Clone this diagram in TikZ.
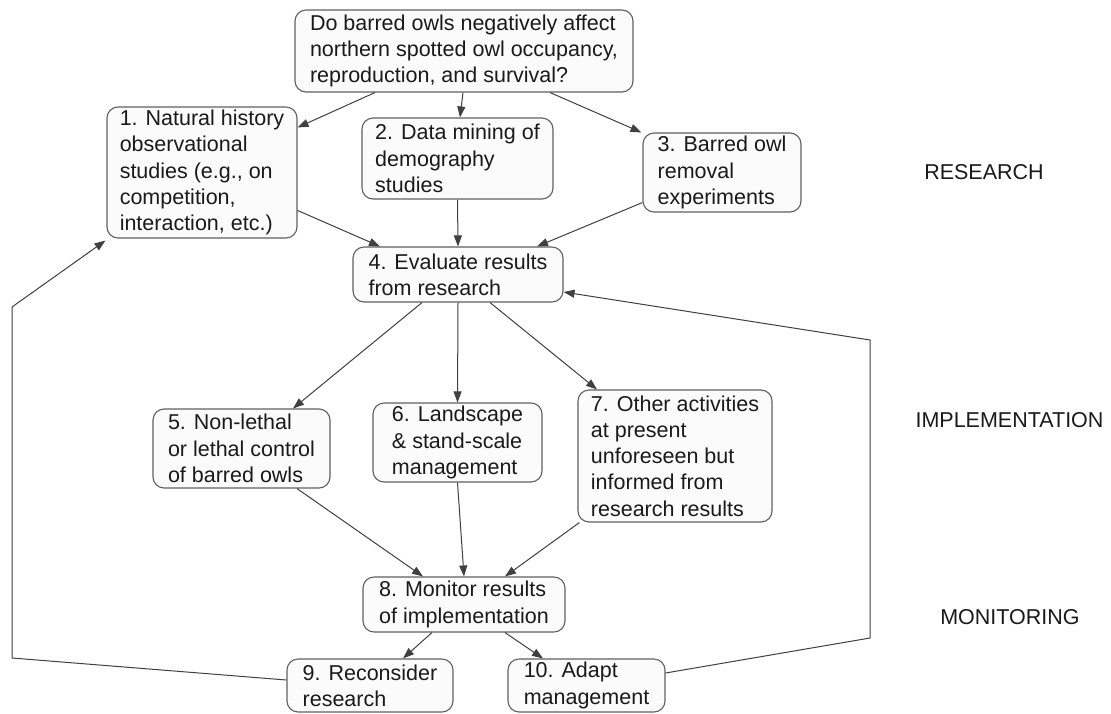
\documentclass[tikz,border=0pt]{standalone}
\usepackage{fontspec}
\setmainfont{Liberation Sans}
\usetikzlibrary{arrows.meta}
\definecolor{boxline}{HTML}{606060}
\definecolor{boxfill}{HTML}{FBFBFB}
\definecolor{conn}{HTML}{404040}
\definecolor{txt}{HTML}{1A1A1A}
\begin{document}
\begin{tikzpicture}[x=1pt,y=-1pt,
  box/.style={draw=boxline,fill=boxfill,line width=1.1pt,rounded corners=11pt,
    inner sep=0pt,align=left,text=txt,
    font=\fontsize{21.5}{26.3}\selectfont},
  lab/.style={text=txt,inner sep=0pt,font=\fontsize{21.5}{26.3}\selectfont},
  arr/.style={draw=conn,line width=1pt,-{Triangle[length=11pt,width=8pt]}},
  link/.style={draw=conn,line width=1pt}]
\useasboundingbox (0,0) rectangle (1111,713);
\fill[white] (0,0) rectangle (1111,713);

\node[box,minimum width=338pt,minimum height=82pt] (Q) at (464,51)
  {Do barred owls negatively affect\\northern spotted owl occupancy,\\reproduction, and survival?};
\node[box,minimum width=190pt,minimum height=131pt] (n1) at (202,172.5)
  {1. Natural history\\observational\\studies (e.g., on\\competition,\\interaction, etc.)};
\node[box,minimum width=191pt,minimum height=81pt] (n2) at (457.5,158.5)
  {2. Data mining of\\demography\\studies};
\node[box,minimum width=158pt,minimum height=79pt] (n3) at (722,172.5)
  {3. Barred owl\\removal\\experiments};
\node[box,minimum width=210pt,minimum height=55pt] (n4) at (458,274.5)
  {4. Evaluate results\\from research};
\node[box,minimum width=177pt,minimum height=79pt] (n5) at (241.5,448.5)
  {5. Non-lethal\\or lethal control\\of barred owls};
\node[box,minimum width=169pt,minimum height=79pt] (n6) at (457.5,442.5)
  {6. Landscape\\\& stand-scale\\management};
\node[box,minimum width=194pt,minimum height=132pt] (n7) at (675,456)
  {7. Other activities\\at present\\unforeseen but\\informed from\\research results};
\node[box,minimum width=202pt,minimum height=55pt] (n8) at (464,604.5)
  {8. Monitor results\\of implementation};
\node[box,minimum width=166pt,minimum height=53pt] (n9) at (370,685.5)
  {9. Reconsider\\research};
\node[box,minimum width=157pt,minimum height=53pt] (n10) at (586.5,685.5)
  {10. Adapt\\management};

\node[lab] (lres) at (984,172) {RESEARCH};
\node[lab] (limp) at (1009.5,420) {IMPLEMENTATION};
\node[lab] (lmon) at (1010,617) {MONITORING};

\coordinate (c1) at (12,658);
\coordinate (c2) at (12,307);
\coordinate (c3) at (870,638);
\coordinate (c4) at (870,340);

\draw[arr] ([xshift=-89pt]Q.south) -- ([yshift=-21pt]n1.north east);
\draw[arr] ([xshift=-1pt]Q.south) -- ([xshift=2.5pt]n2.north);
\draw[arr] ([xshift=86pt]Q.south) -- ([xshift=-1pt]n3.north west);
\draw[arr] ([yshift=-104pt]n1.north east) -- ([xshift=-78pt]n4.north);
\draw[arr] (n2.south) -- (n4.north);
\draw[arr] ([yshift=10pt]n3.south west) -- ([xshift=79pt]n4.north);
\draw[arr] ([xshift=-36pt]n4.south) -- ([xshift=51.5pt]n5.north);
\draw[arr] (n4.south) -- (n6.north);
\draw[arr] ([xshift=32pt]n4.south) -- ([xshift=-78pt]n7.north);
\draw[arr] ([xshift=55.5pt]n5.south) -- ([xshift=-41pt]n8.north);
\draw[arr] (n6.south) -- (n8.north);
\draw[arr] ([xshift=2pt]n7.south west) -- ([xshift=41pt]n8.north);
\draw[arr] ([xshift=-32pt]n8.south) -- ([xshift=33pt]n9.north);
\draw[arr] ([xshift=41pt]n8.south) -- ([xshift=-43.5pt]n10.north);
\draw[arr] ([yshift=5.5pt]n9.west) -- (c1) -- (c2) -- ([xshift=-1pt,yshift=-2pt]n1.south west);
\draw[arr] ([yshift=12.5pt]n10.east) -- (c3) -- (c4) -- ([yshift=-17.5pt]n4.east);
\end{tikzpicture}
\end{document}
